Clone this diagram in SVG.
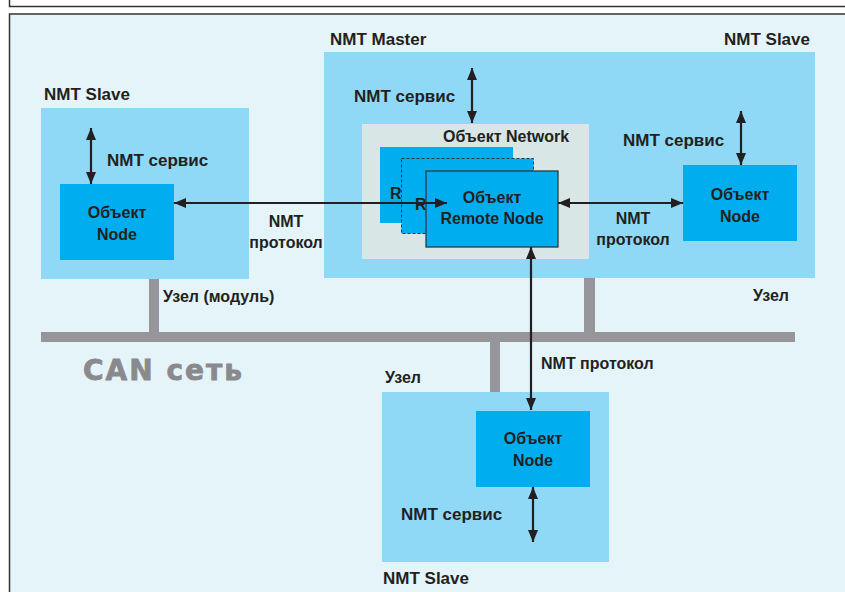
<svg xmlns="http://www.w3.org/2000/svg" width="845" height="592" viewBox="0 0 845 592">
<defs>
<marker id="ah" viewBox="0 0 12 10" refX="12" refY="5" markerWidth="12" markerHeight="10" markerUnits="userSpaceOnUse" orient="auto-start-reverse">
<path d="M0,0 L12,5 L0,10 Z" fill="#231f20"/>
</marker>
</defs>
<style>
.lbl{font-family:"Liberation Sans",Arial,sans-serif;font-weight:bold;font-size:17px;fill:#231f20}
.sm{font-size:16px}
.nt{font-family:"Liberation Sans",Arial,sans-serif;font-weight:bold;font-size:16px;fill:#231f20;text-anchor:middle}
.slave{fill:#8fd8f6}
.node{fill:#00aeef}
.bus{fill:#96969a}
.conn{stroke:#231f20;stroke-width:2.2;fill:none;marker-start:url(#ah);marker-end:url(#ah)}
</style>
<rect x="0" y="0" width="845" height="592" fill="#ffffff"/>
<rect x="9.5" y="-5" width="845" height="11.5" fill="#ffffff" stroke="#333" stroke-width="1.5"/>
<rect x="9.5" y="14" width="845" height="590" fill="#e4f4f8" stroke="#333" stroke-width="1.5"/>

<g id="bus">
<rect class="bus" x="41" y="332" width="754" height="10"/>
<rect class="bus" x="149" y="279" width="10" height="53"/>
<rect class="bus" x="584" y="278" width="11" height="54"/>
<rect class="bus" x="490" y="342" width="10" height="50"/>
<text x="83" y="380" style="font-family:'DejaVu Sans',sans-serif;font-weight:bold;font-size:28px;fill:#8a8a8e;letter-spacing:2px;stroke:#8a8a8e;stroke-width:0.8">CAN сеть</text>
<text class="lbl sm" x="163" y="302">Узел (модуль)</text>
<text class="lbl sm" x="753" y="301">Узел</text>
<text class="lbl sm" x="385" y="383">Узел</text>
</g>

<g id="slave-left">
<rect class="slave" x="41" y="108" width="208" height="171"/>
<text class="lbl" x="44" y="100">NMT Slave</text>
<text class="lbl" x="107" y="166">NMT сервис</text>
</g>
<g id="node-left">
<rect class="node" x="60" y="184" width="114" height="76"/>
<text class="nt" x="117" y="218">Объект</text>
<text class="nt" x="117" y="240">Node</text>
</g>

<g id="master">
<rect class="slave" x="324" y="52" width="491" height="226"/>
<text class="lbl" x="330" y="45">NMT Master</text>
<text class="lbl" x="810" y="45" text-anchor="end">NMT Slave</text>
<text class="lbl" x="354" y="102">NMT сервис</text>
<text class="lbl" x="623" y="146">NMT сервис</text>
</g>
<g id="network">
<rect x="362" y="124" width="227" height="135" fill="#d8e6e6"/>
<text class="lbl sm" x="443" y="142">Объект Network</text>
<rect class="node" x="380" y="147" width="133" height="76"/>
<text class="lbl sm" x="390" y="199">R</text>
<rect class="node" x="401.5" y="158.5" width="132" height="75" stroke="#2a3a40" stroke-width="1" stroke-dasharray="3,2"/>
<text class="lbl sm" x="415" y="210">R</text>
</g>
<g id="remote-node">
<rect class="node" x="426" y="171" width="132" height="76" stroke="#2a3a40" stroke-width="1.3"/>
<text class="nt" x="492" y="203">Объект</text>
<text class="nt" x="492" y="224">Remote Node</text>
</g>
<g id="node-right">
<rect class="node" x="683" y="165" width="114" height="76"/>
<text class="nt" x="740" y="200">Объект</text>
<text class="nt" x="740" y="222">Node</text>
</g>

<g id="slave-bottom">
<rect class="slave" x="382" y="392" width="227" height="170"/>
<text class="lbl" x="383" y="584">NMT Slave</text>
<text class="lbl" x="401" y="520">NMT сервис</text>
</g>
<g id="node-bottom">
<rect class="node" x="476" y="411" width="114" height="76"/>
<text class="nt" x="533" y="444">Объект</text>
<text class="nt" x="533" y="466">Node</text>
</g>

<g id="connectors">
<line class="conn" x1="91" y1="128" x2="91" y2="184"/>
<line class="conn" x1="472" y1="68" x2="472" y2="123"/>
<line class="conn" x1="741" y1="111" x2="741" y2="165"/>
<line class="conn" x1="533" y1="487" x2="533" y2="542"/>
<line class="conn" x1="174" y1="203" x2="447" y2="203"/>
<line class="conn" x1="558" y1="203" x2="683" y2="203"/>
<line class="conn" x1="531" y1="247" x2="531" y2="410"/>
<text class="nt" x="286" y="227">NMT</text>
<text class="nt" x="286" y="248">протокол</text>
<text class="nt" x="633" y="224">NMT</text>
<text class="nt" x="633" y="245">протокол</text>
<text class="lbl sm" x="541" y="369">NMT протокол</text>
</g>
</svg>
